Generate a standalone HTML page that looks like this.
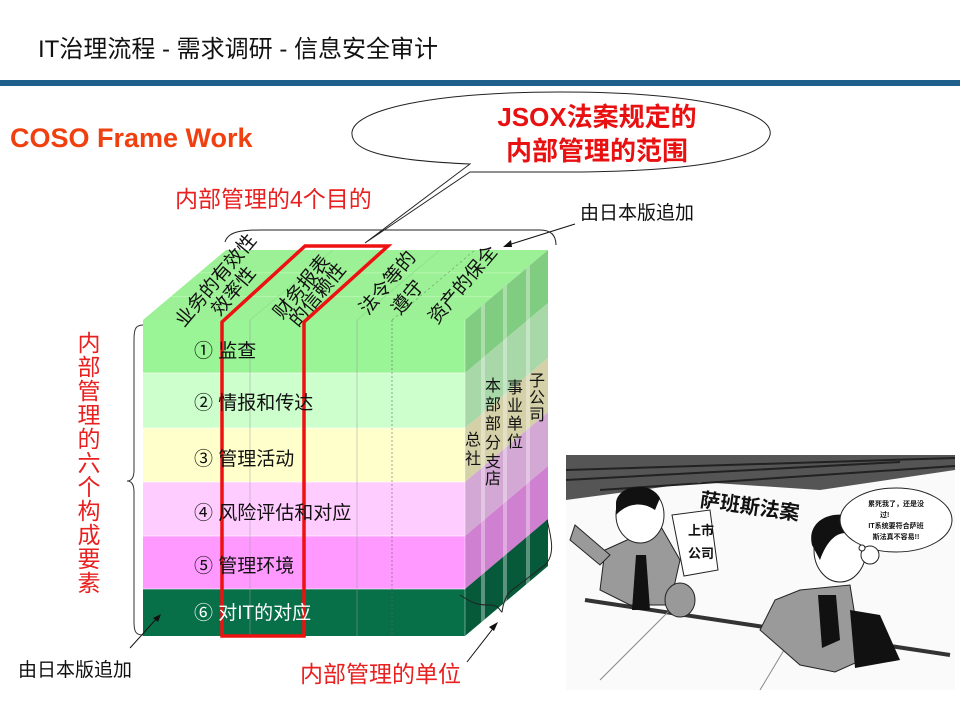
<!DOCTYPE html>
<html><head><meta charset="utf-8"><style>
html,body{margin:0;padding:0;background:#fff;}
svg{display:block;font-family:"Liberation Sans","Noto Sans CJK SC",sans-serif;}
</style></head><body>
<svg width="960" height="720" viewBox="0 0 960 720" xmlns="http://www.w3.org/2000/svg">
<text x="38" y="57" font-size="24" fill="#111">IT治理流程 - 需求调研 - 信息安全审计</text>
<rect x="0" y="80" width="960" height="6" fill="#1f5f8b"/>

<text x="10" y="147" font-size="27" font-weight="bold" fill="#f04010">COSO Frame Work</text>

<!-- callout -->
<path d="M560,92 C700,92 775,112 770,135 C765,158 700,172 560,172 L470,172 L365,243 L470,164 C380,160 350,150 352,132 C355,110 430,92 560,92 Z" fill="#fff" stroke="#222" stroke-width="1"/>
<text x="597" y="126" font-size="26" font-weight="bold" fill="#e81010" text-anchor="middle">JSOX法案规定的</text>
<text x="597" y="160" font-size="26" font-weight="bold" fill="#e81010" text-anchor="middle">内部管理的范围</text>

<text x="175" y="207" font-size="23" fill="#e82020">内部管理的4个目的</text>
<text x="580" y="219" font-size="19" fill="#111">由日本版追加</text>
<line x1="575" y1="224" x2="505" y2="246" stroke="#111"/>
<polygon points="503,247 511,240 512,247" fill="#111"/>

<!-- top brace -->
<path d="M225,242 C228,232 240,230 260,230 L540,230 C552,230 556,236 556,245" fill="none" stroke="#222"/>

<!-- top face -->
<g transform="matrix(1,0,1,-0.843,143,320)">
<rect x="0" y="0" width="322" height="83" fill="#9cf095"/>
<line x1="0" y1="28" x2="322" y2="28" stroke="#b8f8b0"/>
<line x1="0" y1="56" x2="322" y2="56" stroke="#b8f8b0"/>
<line x1="107" y1="0" x2="107" y2="83" stroke="#88dd88"/>
<line x1="214" y1="0" x2="214" y2="83" stroke="#88dd88"/>
<line x1="249" y1="0" x2="249" y2="83" stroke="#447744" stroke-dasharray="2,2" stroke-width="0.6"/>
</g>

<!-- front face rows -->
<rect x="143" y="320" width="322" height="53" fill="#99f595"/>
<rect x="143" y="373" width="322" height="55" fill="#ccffcc"/>
<rect x="143" y="428" width="322" height="54" fill="#ffffcc"/>
<rect x="143" y="482" width="322" height="54" fill="#ffccff"/>
<rect x="143" y="536" width="322" height="53" fill="#ff99ff"/>
<rect x="143" y="589" width="322" height="47" fill="#087048"/>
<g stroke="#ffffff" stroke-opacity="0.6">
<line x1="143" y1="373" x2="465" y2="373"/><line x1="143" y1="428" x2="465" y2="428"/>
<line x1="143" y1="482" x2="465" y2="482"/><line x1="143" y1="536" x2="465" y2="536"/>
<line x1="143" y1="589" x2="465" y2="589"/>
</g>
<g stroke="#999" stroke-opacity="0.5">
<line x1="250" y1="320" x2="250" y2="636"/><line x1="357" y1="320" x2="357" y2="636"/>
</g>
<line x1="392" y1="320" x2="392" y2="636" stroke="#666" stroke-dasharray="2,2" stroke-width="0.6"/>

<!-- side face -->
<g transform="translate(465,0) matrix(1,-0.843,0,1,0,0)">
<rect x="0" y="320" width="83" height="53" fill="#80cc80"/>
<rect x="0" y="373" width="83" height="55" fill="#a8d8a8"/>
<rect x="0" y="428" width="83" height="54" fill="#d4d0a8"/>
<rect x="0" y="482" width="83" height="54" fill="#d4a8d4"/>
<rect x="0" y="536" width="83" height="53" fill="#d080d0"/>
<rect x="0" y="589" width="83" height="47" fill="#065a3a"/>
<g fill="#ffffff" fill-opacity="0.35">
<rect x="16" y="320" width="4" height="316"/><rect x="38" y="320" width="4" height="316"/><rect x="61" y="320" width="4" height="316"/>
</g>
</g>
<line x1="465" y1="320" x2="465" y2="636" stroke="#fff" stroke-opacity="0.4"/>

<!-- top labels -->
<g font-size="19" fill="#111">
<text transform="translate(184,328) rotate(-50)">业务的有效性</text>
<text transform="translate(220,317) rotate(-50)">效率性</text>
<text transform="translate(282,320) rotate(-50)">财务报表</text>
<text transform="translate(298,328) rotate(-50)">的信赖性</text>
<text transform="translate(368,316) rotate(-50)">法令等的</text>
<text transform="translate(400,316) rotate(-50)">遵守</text>
<text transform="translate(437,325) rotate(-50)">资产的保全</text>
</g>

<!-- red outline -->
<polygon points="222,636 222,322 305,246 388,246 304,322 304,636" fill="none" stroke="#ee1111" stroke-width="3.5" stroke-linejoin="miter"/>

<!-- row labels -->
<g font-size="19" fill="#111">
<text x="194" y="357">①  监查</text>
<text x="194" y="409">②  情报和传达</text>
<text x="194" y="465">③  管理活动</text>
<text x="194" y="519">④  风险评估和对应</text>
<text x="194" y="572">⑤  管理环境</text>
<text x="194" y="619" fill="#fff">⑥  对IT的对应</text>
</g>

<!-- side labels -->
<g font-size="16" fill="#111" text-anchor="middle">
<text x="473" y="445">总</text><text x="473" y="464">社</text>
<text x="493" y="391">本</text><text x="493" y="410">部</text><text x="493" y="429">部</text><text x="493" y="448">分</text><text x="493" y="467">支</text><text x="493" y="484">店</text>
<text x="515" y="393">事</text><text x="515" y="411">业</text><text x="515" y="429">单</text><text x="515" y="447">位</text>
<text x="537" y="386">子</text><text x="537" y="403">公</text><text x="537" y="420">司</text>
</g>

<!-- left brace -->
<path d="M143,325 C135,325 134,330 134,340 L134,470 C134,478 131,481 127,481 C131,481 134,484 134,492 L134,622 C134,632 136,635 143,635" fill="none" stroke="#333"/>
<g font-size="23" fill="#e82020" text-anchor="middle">
<text x="89" y="351">内</text><text x="89" y="375">部</text><text x="89" y="399">管</text><text x="89" y="423">理</text><text x="89" y="447">的</text><text x="89" y="471">六</text><text x="89" y="495">个</text><text x="89" y="519">构</text><text x="89" y="543">成</text><text x="89" y="567">要</text><text x="89" y="591">素</text>
</g>
<line x1="130" y1="648" x2="158" y2="617" stroke="#111"/>
<polygon points="161,614 153,618 158,622" fill="#111"/>
<text x="18" y="676" font-size="19" fill="#111">由日本版追加</text>

<!-- bottom brace -->
<path d="M460,595 C475,605 480,605 490,605 C500,605 500,612 502,612 C503,605 505,595 512,590 L545,565 C555,555 552,540 547,520" fill="none" stroke="#222"/>
<line x1="467" y1="662" x2="495" y2="626" stroke="#111"/>
<polygon points="498,622 489,627 494,631" fill="#111"/>
<text x="300" y="682" font-size="23" fill="#e82020">内部管理的单位</text>

<!-- cartoon -->
<g>
<rect x="566" y="455" width="389" height="235" fill="#fafafa"/>
<path d="M566,455 L955,455 L955,470 L820,490 L700,482 L566,500 Z" fill="#555"/>
<path d="M566,470 L955,458 M566,480 L900,462 M600,490 L955,466" stroke="#222" stroke-width="2"/>
<line x1="585" y1="600" x2="950" y2="655" stroke="#333" stroke-width="4"/>
<line x1="600" y1="680" x2="670" y2="610" stroke="#888"/>
<line x1="760" y1="690" x2="790" y2="640" stroke="#888"/>
<!-- left man -->
<path d="M605,550 L660,525 L680,560 L670,605 L630,605 L600,590 Z" fill="#9a9a9a" stroke="#222"/>
<path d="M575,525 L610,555 L600,565 L570,540 Z" fill="#9a9a9a" stroke="#222"/>
<ellipse cx="640" cy="515" rx="24" ry="28" fill="#fff" stroke="#222"/>
<path d="M616,505 C615,485 650,480 660,498 L655,510 C640,500 625,505 616,515 Z" fill="#111"/>
<polygon points="636,555 646,555 650,610 632,610" fill="#111"/>
<path d="M672,515 L710,510 L718,570 L684,576 Z" fill="#fff" stroke="#222"/>
<text font-size="13" font-weight="bold" fill="#111" x="688" y="535">上市</text>
<text font-size="13" font-weight="bold" fill="#111" x="688" y="558">公司</text>
<ellipse cx="680" cy="600" rx="15" ry="17" fill="#999" stroke="#222"/>
<text x="700" y="512" font-size="20" font-weight="bold" fill="#111" transform="rotate(8 740 505)">萨班斯法案</text>
<!-- right man -->
<ellipse cx="840" cy="550" rx="26" ry="32" fill="#fff" stroke="#222"/>
<path d="M812,545 C805,515 845,505 865,525 L860,538 C845,528 830,532 820,560 Z" fill="#111"/>
<path d="M800,590 L850,585 L862,660 L835,672 L800,665 L760,630 L775,600 Z" fill="#9a9a9a" stroke="#222"/>
<polygon points="818,595 836,595 840,640 822,648" fill="#111"/>
<path d="M850,610 L880,615 L900,660 L855,668 Z" fill="#111"/>
<ellipse cx="896" cy="520" rx="56" ry="32" fill="#fff" stroke="#222"/>
<circle cx="870" cy="555" r="9" fill="#fff" stroke="#222"/>
<circle cx="862" cy="548" r="3" fill="#fff" stroke="#222"/>
<text x="896" y="506" font-size="7" font-weight="bold" text-anchor="middle" fill="#111">累死我了，还是没</text>
<text x="880" y="517" font-size="7" font-weight="bold" fill="#111">过!</text>
<text x="896" y="528" font-size="7" font-weight="bold" text-anchor="middle" fill="#111">IT系统要符合萨班</text>
<text x="896" y="539" font-size="7" font-weight="bold" text-anchor="middle" fill="#111">斯法真不容易!!</text>
</g>
</svg>
</body></html>
